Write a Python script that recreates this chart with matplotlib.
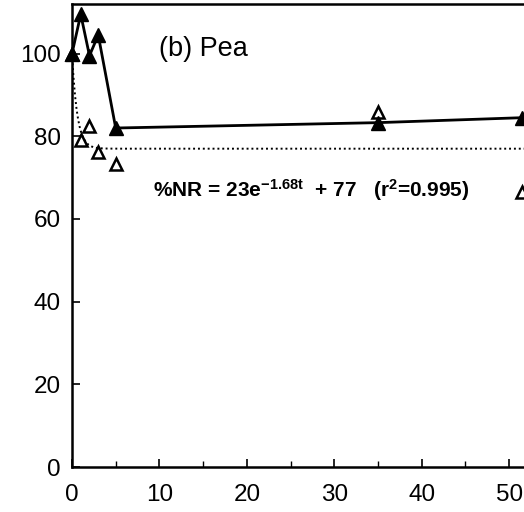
import numpy as np
import matplotlib
matplotlib.use("Agg")
import matplotlib.pyplot as plt
from matplotlib.ticker import MultipleLocator

plt.rcParams['font.family'] = ['Liberation Sans', 'DejaVu Sans']
plt.rcParams['mathtext.fontset'] = 'custom'
plt.rcParams['mathtext.rm'] = 'Liberation Sans:bold'
plt.rcParams['mathtext.it'] = 'Liberation Sans:bold'
plt.rcParams['mathtext.bf'] = 'Liberation Sans:bold'

# Data
time_filled = [0, 1, 2, 3, 5, 35, 51.5]
nr_filled = [100, 109.5, 99.5, 104.5, 82, 83.3, 84.5]
time_open = [0, 1, 2, 3, 5, 35, 51.5]
nr_open = [100, 79, 82.5, 76.2, 73.3, 85.8, 66.5]
fit_a, fit_k, fit_c = 23, 1.68, 77
xticks = [0, 10, 20, 30, 40, 50]
yticks = [0, 20, 40, 60, 80, 100]

fig = plt.figure(figsize=(5.24, 5.12), dpi=100)
ax = fig.add_axes([72/524, 45/512, 1 - 72/524, (467-4)/512])

t_fit = np.linspace(0, 52, 600)
ax.plot(t_fit, fit_a*np.exp(-fit_k*t_fit) + fit_c, color='black', lw=1.4,
        linestyle=(0, (1, 1.5)), zorder=2)
ax.plot(time_open, nr_open, linestyle='none', marker='^', markersize=8.5,
        markerfacecolor='white', markeredgecolor='black', markeredgewidth=1.8,
        clip_on=False, zorder=3)
ax.plot(time_filled, nr_filled, color='black', lw=2.0, marker='^', markersize=9.5,
        markerfacecolor='black', markeredgecolor='black', clip_on=False, zorder=4)

ax.set_xlim(0, 51.7)
ax.set_ylim(0, 112)
ax.set_xticks(xticks)
ax.set_yticks(yticks)
ax.xaxis.set_minor_locator(MultipleLocator(5))
ax.tick_params(axis='both', which='major', direction='in', length=6, width=1.2,
               labelsize=17.5)
ax.tick_params(axis='x', which='major', pad=12)
ax.tick_params(axis='y', which='major', pad=8)
ax.tick_params(axis='x', which='minor', direction='in', length=4, width=1.0)
ax.spines['right'].set_visible(False)
for s in ['left', 'bottom', 'top']:
    ax.spines[s].set_linewidth(1.8)

ax.text(10, 99.4, '(b) Pea', fontsize=19.5, ha='left', va='baseline')
ax.text(9.3, 65.3, r'%NR = 23e$^{\mathrm{-1.68t}}$  + 77   (r$^{\mathrm{2}}$=0.995)',
        fontsize=15, fontweight='bold', ha='left', va='baseline')

fig.savefig('out.png', dpi=100)
